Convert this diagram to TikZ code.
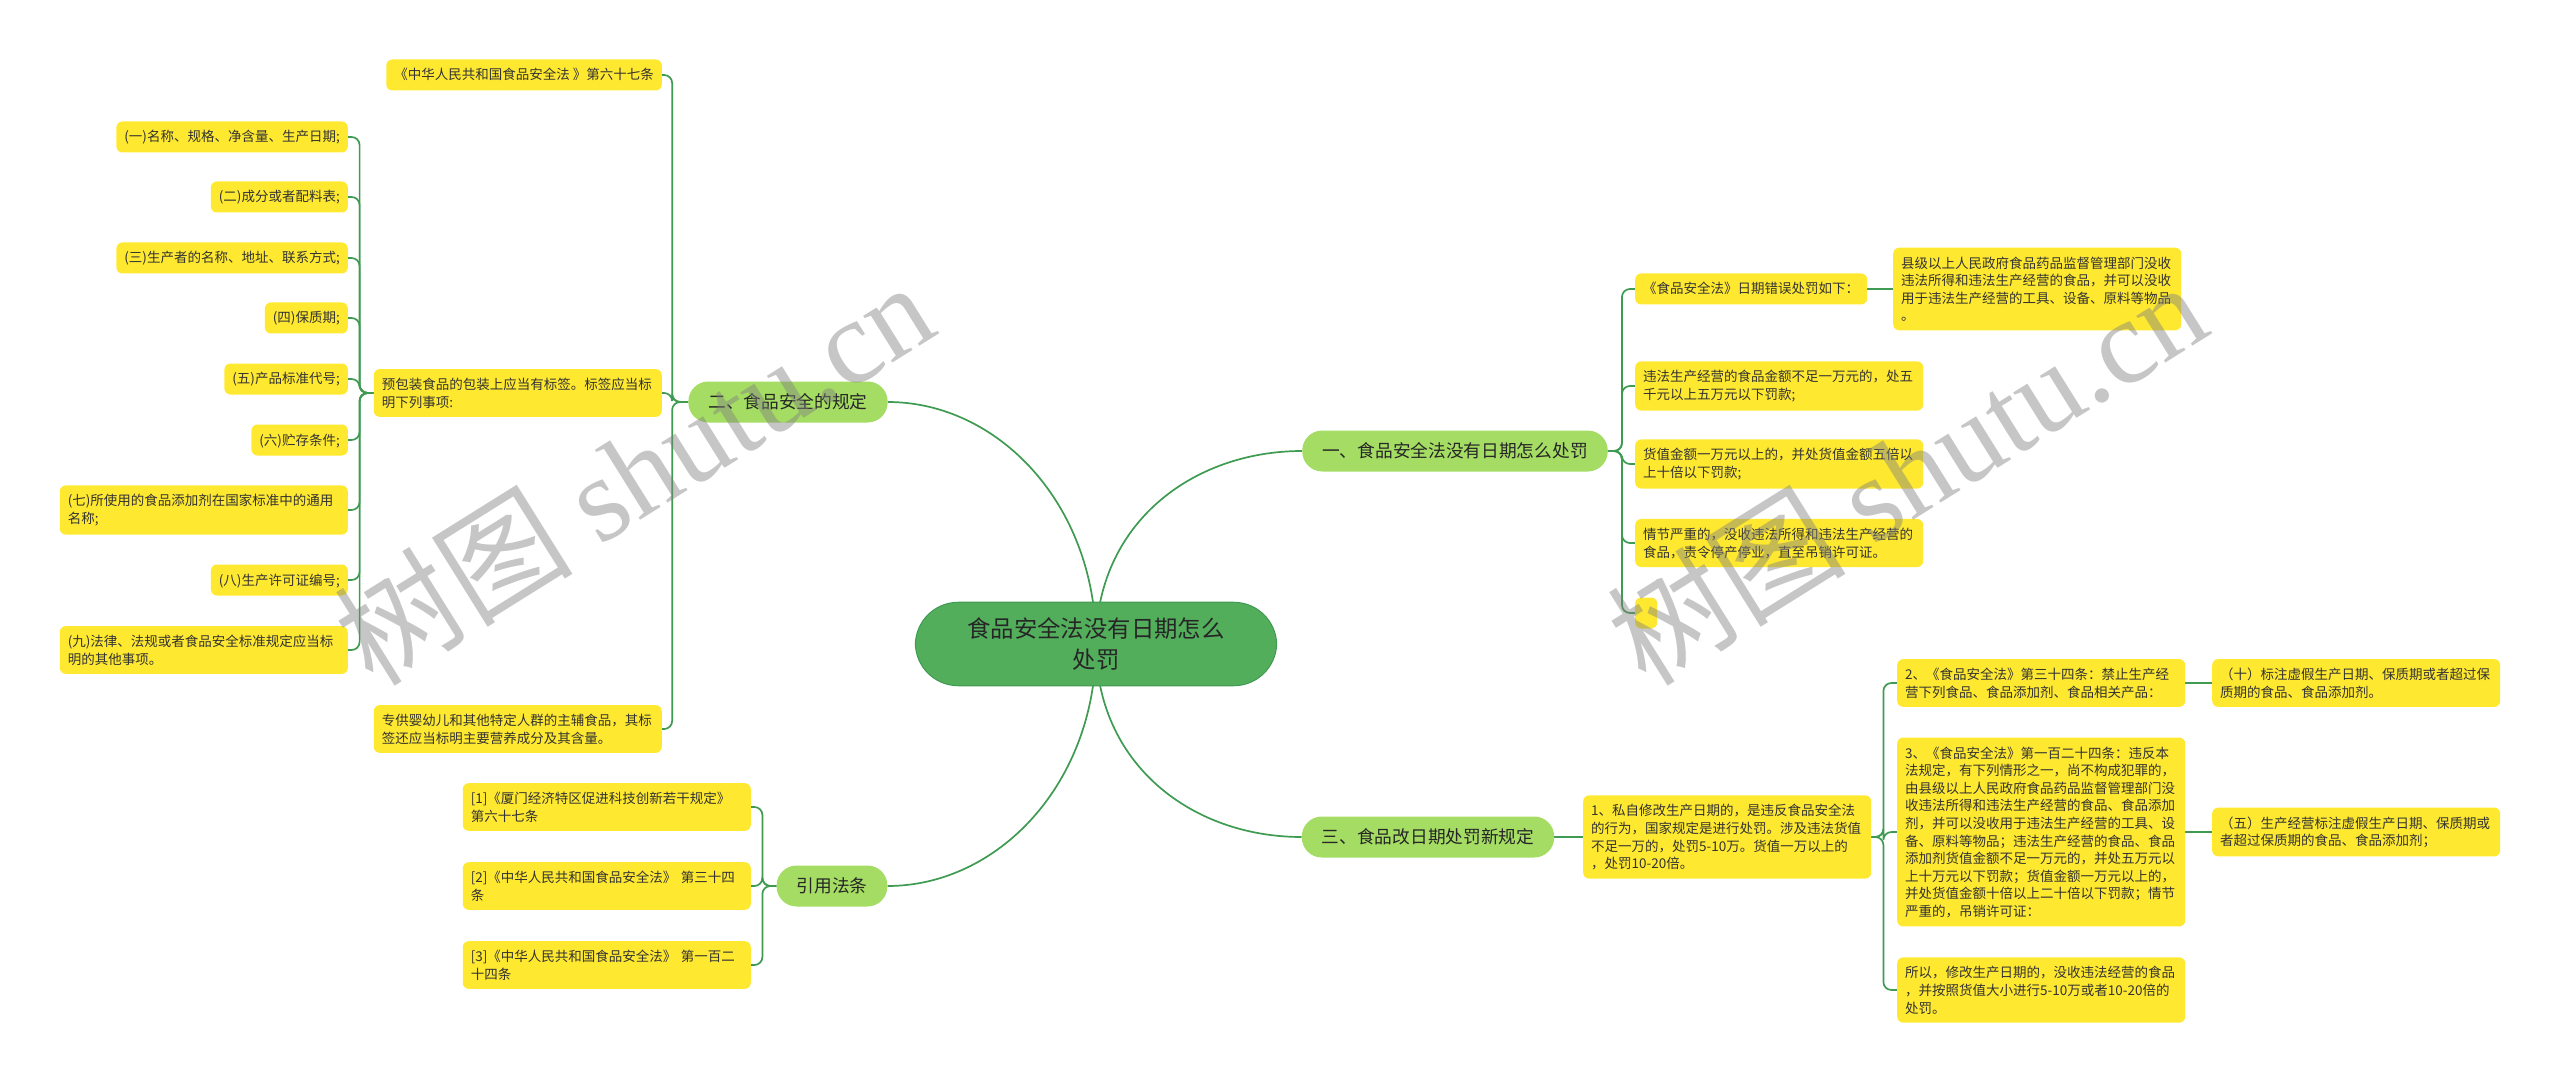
\documentclass[tikz,border=0pt]{standalone}
\usepackage{fontspec}
\setmainfont{Noto Sans CJK SC}
\newfontfamily\wmfont{Liberation Serif}
\usetikzlibrary{backgrounds}

\definecolor{rootgreen}{HTML}{53AE5C}
\definecolor{topicgreen}{HTML}{A5DC63}
\definecolor{leafyellow}{HTML}{FFE930}
\definecolor{linkgreen}{HTML}{3F9A52}

\tikzset{
  root/.style={fill=rootgreen, draw=linkgreen, line width=1pt, rounded corners=43pt, align=center,
    inner xsep=52pt, inner ysep=15pt, text=black!85, font=\fontsize{23.4}{31.7}\selectfont},
  topic/.style={fill=topicgreen, rounded corners=20pt, minimum height=41pt,
    inner xsep=20pt, inner ysep=0pt, text=black!85, font=\fontsize{17.7}{22}\selectfont},
  box/.style={fill=leafyellow, rounded corners=6pt, inner xsep=8pt, inner ysep=8.5pt,
    text=black!80, font=\fontsize{13.5}{17.6}\selectfont, text height=12pt},
  leaf/.style={box, text depth=2pt},
  para/.style={box, text width=272pt, align=left},
  link/.style={draw=linkgreen, line width=1.7pt},
  fork/.style={link, rounded corners=8pt},
  wmark/.style={rotate=32, text=gray, text opacity=.45, font=\fontsize{120}{120}\selectfont}
}

\begin{document}
\begin{tikzpicture}[x=1pt, y=-1pt]
  \useasboundingbox (0,0) rectangle (2560,1083);
  \node[root] (root) at (1096,644) {食品安全法没有日期怎么\\处罚};

  \node[topic] (b2) at (788,402) {二、食品安全的规定};
  \node[leaf, anchor=east] (law) at (662,75) {《中华人民共和国食品安全法 》第六十七条};
  \node[para, anchor=east] (pack) at (662,393) {预包装食品的包装上应当有标签。标签应当标\\明下列事项:};
  \node[para, anchor=east] (baby) at (662,729) {专供婴幼儿和其他特定人群的主辅食品，其标\\签还应当标明主要营养成分及其含量。};
  \node[leaf, anchor=east] (i1) at (348,137) {(一)名称、规格、净含量、生产日期;};
  \node[leaf, anchor=east] (i2) at (348,197) {(二)成分或者配料表;};
  \node[leaf, anchor=east] (i3) at (348,258) {(三)生产者的名称、地址、联系方式;};
  \node[leaf, anchor=east] (i4) at (348,318) {(四)保质期;};
  \node[leaf, anchor=east] (i5) at (348,379) {(五)产品标准代号;};
  \node[leaf, anchor=east] (i6) at (348,440) {(六)贮存条件;};
  \node[para, anchor=east] (i7) at (348,510) {(七)所使用的食品添加剂在国家标准中的通用\\名称;};
  \node[leaf, anchor=east] (i8) at (348,580) {(八)生产许可证编号;};
  \node[para, anchor=east] (i9) at (348,650) {(九)法律、法规或者食品安全标准规定应当标\\明的其他事项。};

  \node[topic] (b4) at (832,886) {引用法条};
  \node[para, anchor=east] (c1) at (751,807) {[1]《厦门经济特区促进科技创新若干规定》\\第六十七条};
  \node[para, anchor=east] (c2) at (751,886) {[2]《中华人民共和国食品安全法》 第三十四\\条};
  \node[para, anchor=east] (c3) at (751,965) {[3]《中华人民共和国食品安全法》 第一百二\\十四条};

  \node[topic] (b1) at (1455,451) {一、食品安全法没有日期怎么处罚};
  \node[leaf, anchor=west] (r0) at (1635,289) {《食品安全法》日期错误处罚如下：};
  \node[para, anchor=west] (r0a) at (1893,289) {县级以上人民政府食品药品监督管理部门没收\\违法所得和违法生产经营的食品，并可以没收\\用于违法生产经营的工具、设备、原料等物品\\。};
  \node[para, anchor=west] (r1) at (1635,386) {违法生产经营的食品金额不足一万元的，处五\\千元以上五万元以下罚款;};
  \node[para, anchor=west] (r2) at (1635,464) {货值金额一万元以上的，并处货值金额五倍以\\上十倍以下罚款;};
  \node[para, anchor=west] (r3) at (1635,543) {情节严重的，没收违法所得和违法生产经营的\\食品，责令停产停业，直至吊销许可证。};
  \node[leaf, anchor=west, minimum width=22pt] (r4) at (1635,613) {};

  \node[topic] (b3) at (1428,837) {三、食品改日期处罚新规定};
  \node[para, anchor=west] (s1) at (1583,837) {1、私自修改生产日期的，是违反食品安全法\\的行为，国家规定是进行处罚。涉及违法货值\\不足一万的，处罚5-10万。货值一万以上的\\，处罚10-20倍。};
  \node[para, anchor=west] (s2) at (1897,683) {2、《食品安全法》第三十四条：禁止生产经\\营下列食品、食品添加剂、食品相关产品：};
  \node[para, anchor=west] (s3) at (1897,832) {3、《食品安全法》第一百二十四条：违反本\\法规定，有下列情形之一，尚不构成犯罪的，\\由县级以上人民政府食品药品监督管理部门没\\收违法所得和违法生产经营的食品、食品添加\\剂，并可以没收用于违法生产经营的工具、设\\备、原料等物品；违法生产经营的食品、食品\\添加剂货值金额不足一万元的，并处五万元以\\上十万元以下罚款；货值金额一万元以上的，\\并处货值金额十倍以上二十倍以下罚款；情节\\严重的，吊销许可证：};
  \node[para, anchor=west] (s4) at (1897,990) {所以，修改生产日期的，没收违法经营的食品\\，并按照货值大小进行5-10万或者10-20倍的\\处罚。};
  \node[para, anchor=west] (s2a) at (2212,683) {（十）标注虚假生产日期、保质期或者超过保\\质期的食品、食品添加剂。};
  \node[para, anchor=west] (s3a) at (2212,832) {（五）生产经营标注虚假生产日期、保质期或\\者超过保质期的食品、食品添加剂；};

  \begin{scope}[on background layer]
    \draw[link] (root.center) .. controls +(0,-140) and +(110,0) .. (b2.east);
    \draw[link] (root.center) .. controls +(0,-120) and +(-110,0) .. (b1.west);
    \draw[link] (root.center) .. controls +(0,140) and +(110,0) .. (b4.east);
    \draw[link] (root.center) .. controls +(0,120) and +(-110,0) .. (b3.west);
    \foreach \c in {law,pack,baby} \draw[fork] (b2.west) -- ++(-16,0) |- (\c.east);
    \foreach \c in {i1,i2,i3,i4,i5,i6,i7,i8,i9} \draw[fork] (pack.west) -- ++(-14,0) |- (\c.east);
    \foreach \c in {c1,c2,c3} \draw[fork] (b4.west) -- ++(-14,0) |- (\c.east);
    \foreach \c in {r0,r1,r2,r3,r4} \draw[fork] (b1.east) -- ++(14,0) |- (\c.west);
    \draw[link] (r0) -- (r0a);
    \draw[link] (b3) -- (s1);
    \foreach \c in {s2,s3,s4} \draw[fork] (s1.east) -- ++(12,0) |- (\c.west);
    \draw[link] (s2) -- (s2a);
    \draw[link] (s3) -- (s3a);
  \end{scope}

  \foreach \x [count=\i] in {370,1643}
    \node[wmark, anchor=base west] (wm\i) at (\x,690) {树图 {\wmfont shutu.cn}};
\end{tikzpicture}
\end{document}
